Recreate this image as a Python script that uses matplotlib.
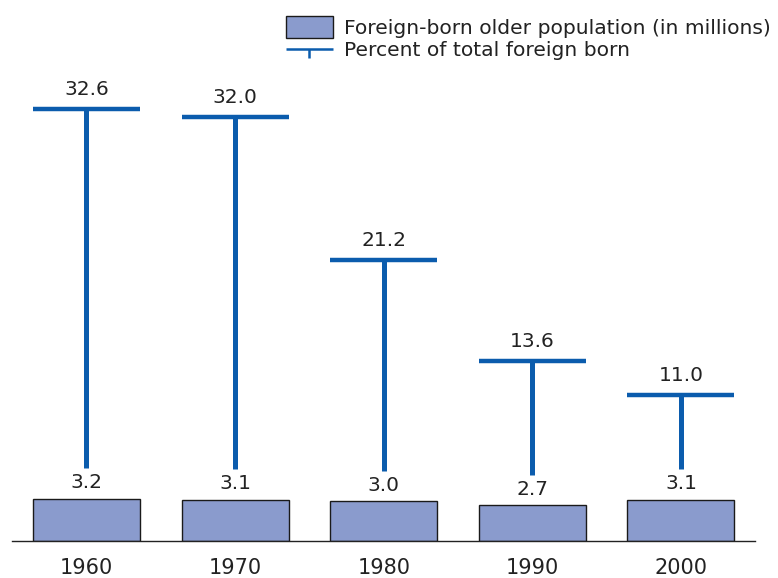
import matplotlib
matplotlib.use('Agg')
import matplotlib.pyplot as plt
from matplotlib.patches import Patch
from matplotlib.lines import Line2D
from matplotlib.legend_handler import HandlerBase

years = ['1960', '1970', '1980', '1990', '2000']
older_pop = [3.2, 3.1, 3.0, 2.7, 3.1]          # millions
pct_foreign = [32.6, 32.0, 21.2, 13.6, 11.0]   # percent of total foreign born

bar_color = '#8a9bcd'
t_color = '#0b5cad'
text_color = '#222222'

plt.rcParams['font.family'] = ['DejaVu Sans']


class HandlerT(HandlerBase):
    """ Legend handle drawn as a small T. """
    def create_artists(self, legend, orig_handle, xdescent, ydescent,
                       width, height, fontsize, trans):
        y = height * 0.5 - ydescent
        x0 = -xdescent
        top = Line2D([x0, x0 + width], [y, y], color=t_color, lw=1.8,
                     solid_capstyle='butt', transform=trans)
        mid = x0 + width / 2
        stem = Line2D([mid, mid], [y, y - 6.5], color=t_color, lw=1.8,
                      solid_capstyle='butt', transform=trans)
        return [top, stem]


fig = plt.figure(figsize=(7.78, 5.78), dpi=100)
ax = fig.add_axes([0, 37 / 578, 1, 541 / 578])

x = list(range(len(years)))
bar_w = 0.72
ax.bar(x, older_pop, width=bar_w, color=bar_color, edgecolor='#1a1a1a',
       linewidth=1.0, zorder=2)

for xi, b, p in zip(x, older_pop, pct_foreign):
    stem_bottom = b + 2.3
    ax.plot([xi, xi], [stem_bottom, p], color=t_color, lw=3.6,
            solid_capstyle='butt', zorder=3)
    ax.plot([xi - bar_w / 2, xi + bar_w / 2], [p, p], color=t_color, lw=3.2,
            solid_capstyle='butt', zorder=3)
    ax.text(xi, p + 0.75, f'{p:.1f}', ha='center', va='bottom',
            fontsize=14.5, color=text_color)
    ax.text(xi, b + 0.5, f'{b:.1f}', ha='center', va='bottom',
            fontsize=14.5, color=text_color)

ax.set_xlim(-0.582, 4.653)
ax.set_ylim(0, 541 / 13.25)

for s in ['top', 'right', 'left']:
    ax.spines[s].set_visible(False)
ax.spines['bottom'].set_bounds(-0.5, 4.5)
ax.spines['bottom'].set_color('#222222')
ax.spines['bottom'].set_linewidth(1.0)
ax.set_yticks([])
ax.set_xticks(x)
ax.set_xticklabels(years, fontsize=15, color=text_color)
ax.tick_params(axis='x', length=0, pad=12)

handles = [Patch(facecolor=bar_color, edgecolor='#1a1a1a', linewidth=1.0),
           object()]
labels = ['Foreign-born older population (in millions)',
          'Percent of total foreign born']
leg = fig.legend(handles, labels, loc='upper left',
                 bbox_to_anchor=(286 / 778, 1 - 16 / 578), frameon=False,
                 fontsize=14.6, handlelength=2.3, handleheight=1.3,
                 handletextpad=0.58, labelspacing=0.0, borderpad=0,
                 borderaxespad=0, handler_map={object: HandlerT()})
for t in leg.get_texts():
    t.set_color(text_color)

fig.savefig('out.png', dpi=100)
